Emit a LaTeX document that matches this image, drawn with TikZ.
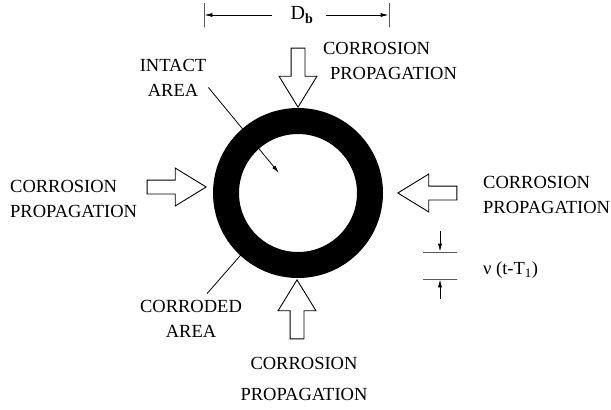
\documentclass[tikz,border=0pt]{standalone}
\usepackage{fontspec}
\setmainfont{Liberation Serif}
\usetikzlibrary{arrows.meta, shapes.arrows}
\tikzset{ring/.style = {shape = circle, draw, line width = 26pt, minimum size = 144pt, inner sep = 0pt, outer sep = 0pt}}
\tikzset{flow/.style = {shape = single arrow, draw, line width = 0.9pt, minimum height = 59pt, inner xsep = 0pt, inner ysep = 6.5pt, single arrow head extend = 12pt, single arrow tip angle = 63, outer sep = 0pt}}
\tikzset{note/.style = {font = \fontsize{18.5}{25}\selectfont, inner sep = 2pt}}
\tikzset{tick/.style = {draw, inner sep = 0pt, minimum width = 0pt, minimum height = 24pt, line width = 0.8pt}}
\tikzset{bar/.style = {draw, inner sep = 0pt, minimum height = 0pt, minimum width = 34pt, line width = 0.8pt}}
\tikzset{edge/.style = {->, > = {Latex[length = 8pt, width = 4pt]}, line width = 0.8pt}}

\begin{document}
\begin{tikzpicture}[x = 1pt, y = -1pt]
			\useasboundingbox (0, 0) rectangle (611, 410);

			\node[ring] (ring) at (298, 193) {};

			\node[tick] (dl) at (204, 15) {};
			\node[tick] (dr) at (389, 15) {};
			\node[note, font = \fontsize{20}{25}\selectfont] (db) at (302, 15) {D\textsubscript{\textbf{b}}};

			\node[flow, rotate = -90] (atop) at (298, 72) {};
			\node[flow, rotate = 90] (abot) at (297, 315) {};
			\node[flow] (aleft) at (171, 187) {};
			\node[flow, rotate = 180] (aright) at (433, 193) {};

			\node[note, align = left] (ctop) at (390, 61) {CORROSION\\\hspace*{7pt}PROPAGATION};
			\node[note, align = left, anchor = west] (cleft) at (8, 199) {CORROSION\\PROPAGATION};
			\node[note, align = left, anchor = west] (cright) at (481, 195) {CORROSION\\PROPAGATION};
			\node[note, align = center] (cbot) at (304, 379) {CORROSION\\[6pt]PROPAGATION};
			\node[note, align = center] (intact) at (173, 78) {INTACT\\AREA};
			\node[note, align = center] (corroded) at (191, 319) {CORRODED\\AREA};

			\node[bar] (tin) at (440, 252) {};
			\node[bar] (tout) at (440, 279) {};
			\coordinate (ta) at (440, 231);
			\coordinate (tb) at (440, 299);
			\node[note, anchor = west] (nu) at (481, 270) {ν (t-T\textsubscript{1})};

			\coordinate (hole) at (279, 173);

			\draw[edge, shorten <= 16pt] (db) to (dl);
			\draw[edge, shorten <= 10pt] (db) to (dr);
			\draw[edge] (intact.-15) to (hole);
			\draw[line width = 0.8pt, shorten <= 6pt] (corroded.60) to (ring.227);
			\draw[edge] (ta) to (tin);
			\draw[edge] (tb) to (tout);
		\end{tikzpicture}
\end{document}
